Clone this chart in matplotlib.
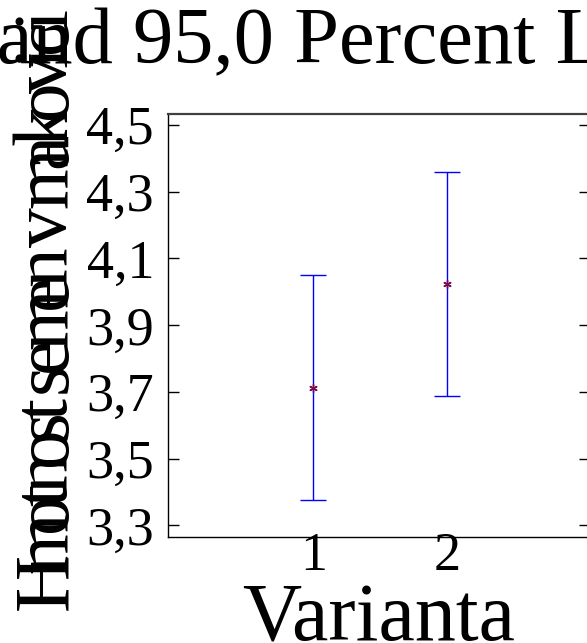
import matplotlib
matplotlib.use("Agg")
import matplotlib.pyplot as plt

# data (means and LSD interval half-widths)
variants = [1, 2]
means = [3.713, 4.024]
lsd_half = [0.336, 0.336]
y_ticks = [3.3, 3.5, 3.7, 3.9, 4.1, 4.3, 4.5]
y_tick_labels = ["3,3", "3,5", "3,7", "3,9", "4,1", "4,3", "4,5"]

title = "Means and 95,0 Percent LSD Intervals"
x_label = "Varianta"
y_label = "Hmotnost semen v makovici"

W, H = 587, 643
plt.rcParams["font.family"] = ["Liberation Serif", "DejaVu Serif"]

fig = plt.figure(figsize=(W / 100, H / 100), dpi=100)
ax = fig.add_axes([168 / W, (H - 537) / H, 422 / W, 423 / H])

ax.errorbar(variants, means, yerr=lsd_half, fmt="none", ecolor="#0000ff",
            elinewidth=1.0, capsize=9.7, capthick=1.0)
ax.plot(variants, means, linestyle="none", marker=(6, 2, 0), markersize=6,
        color="#7a0a50", markeredgewidth=1.0)

ax.set_xlim(-0.089, 3.074)
ax.set_ylim(3.265, 4.533)
ax.set_yticks(y_ticks)
ax.set_yticklabels(y_tick_labels)
ax.set_xticks(variants)
ax.set_xticklabels([str(v) for v in variants])

ax.tick_params(axis="y", direction="in", length=8, width=1, right=True,
               labelsize=39, pad=10)
ax.tick_params(axis="x", length=0, labelsize=39, pad=-4)

for side in ["left", "bottom", "right"]:
    ax.spines[side].set_linewidth(1.0)
    ax.spines[side].set_color("black")
ax.spines["top"].set_linewidth(1.6)
ax.spines["top"].set_color("#404040")

ax.set_xlabel(x_label, fontsize=59, labelpad=1)

# title runs off the left edge in the reference
fig.text(-238 / W, (H - 62) / H, title, fontsize=58, ha="left", va="baseline")

# y label: glyphs are crammed together like in the original export
renderer = fig.canvas.get_renderer()
squeeze = 0.655
base_x = 66 / W
start_y = 610
for i, ch in enumerate(y_label):
    if ch == " ":
        continue
    if i == 0:
        adv = 0.0
    else:
        tmp = fig.text(0, 0, y_label[:i] + ch, fontsize=57)
        full = tmp.get_window_extent(renderer).width
        tmp.remove()
        tmp = fig.text(0, 0, ch, fontsize=57)
        cw = tmp.get_window_extent(renderer).width
        tmp.remove()
        adv = full - cw
    y_px = start_y - squeeze * adv
    fig.text(base_x, (H - y_px) / H, ch, fontsize=57, rotation=90,
             rotation_mode="anchor", ha="left", va="baseline")

fig.savefig("out.png", dpi=100)
